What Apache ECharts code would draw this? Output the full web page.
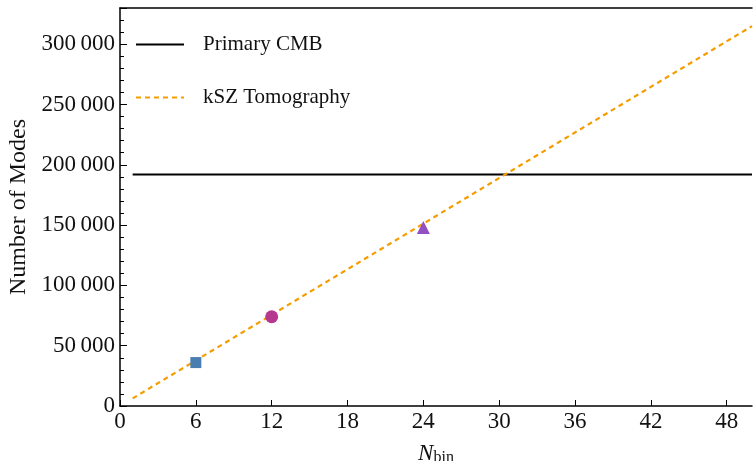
<!DOCTYPE html>
<html>
<head>
<meta charset="utf-8">
<script src="https://cdn.jsdelivr.net/npm/echarts@6/dist/echarts.min.js"></script>
<style>
  html, body { margin: 0; padding: 0; background: #fff; }
  #main { width: 754px; height: 461px; }
</style>
</head>
<body>
<div id="main"></div>
<script>
// values
var cmbN = [1, 50]
var cmbModes = [192000, 192000]
var kszN = [1, 50]
var kszModes = [6300, 315000]
var pointN = [6, 12, 24]
var pointModes = [36000, 74000, 148000]
var pointShapes = ['rect', 'circle', 'triangle']
var pointColors = ['#4a7db0', '#b5378f', '#9250c2']
var pointSizes = [11, 13, 13]
var xTicks = [0, 6, 12, 18, 24, 30, 36, 42, 48]

var font = 'Liberation Serif'

function pairs (xs, ys) {
  return xs.map(function (x, i) { return [x, ys[i]] })
}

var myChart = echarts.init(document.getElementById('main'))
myChart.setOption({
  animation: false,
  textStyle: { fontFamily: font },
  grid: { left: 120, right: 2, top: 8, bottom: 55, containLabel: false, outerBoundsMode: 'none' },
  legend: {
    orient: 'vertical',
    left: 135,
    top: 34,
    padding: 0,
    itemWidth: 48,
    itemHeight: 12,
    itemGap: 32,
    data: [
      { name: 'Primary CMB', itemStyle: { opacity: 0 } },
      { name: 'kSZ Tomography', itemStyle: { opacity: 0 } }
    ],
    textStyle: { fontFamily: font, fontSize: 21, color: '#111', padding: [0, 0, 0, 14] }
  },
  xAxis: [{
    type: 'value',
    min: 0,
    max: 50,
    interval: 6,
    name: '{n|N}{s|bin}',
    nameLocation: 'middle',
    nameGap: 36,
    nameTextStyle: {
      rich: {
        n: { fontFamily: font, fontStyle: 'italic', fontSize: 23, color: '#111' },
        s: { fontFamily: font, fontSize: 16, color: '#111', verticalAlign: 'bottom', padding: [8, 0, 0, 0] }
      }
    },
    splitLine: { show: false },
    axisLine: { lineStyle: { color: '#000', width: 1.5 } },
    axisTick: { inside: true, length: 6, lineStyle: { color: '#000' } },
    axisLabel: {
      fontFamily: font, fontSize: 23, color: '#111', margin: 4,
      showMaxLabel: false,
      formatter: function (v) { return xTicks.indexOf(v) >= 0 ? String(v) : '' }
    }
  }, {
    type: 'value',
    position: 'top',
    min: 0,
    max: 50,
    axisLine: { show: true, lineStyle: { color: '#000', width: 1.5 } },
    axisTick: { show: false },
    axisLabel: { show: false },
    splitLine: { show: false }
  }],
  yAxis: {
    type: 'value',
    min: 0,
    max: 330000,
    interval: 50000,
    name: 'Number of Modes',
    nameLocation: 'middle',
    nameGap: 87,
    nameRotate: 90,
    nameTextStyle: { fontFamily: font, fontSize: 24, color: '#111' },
    splitLine: { show: false },
    axisLine: { show: true, lineStyle: { color: '#000', width: 1.5 } },
    axisTick: { inside: true, length: 7, lineStyle: { color: '#000' } },
    minorTick: { show: true, splitNumber: 5, length: 4, lineStyle: { color: '#000' } },
    axisLabel: {
      fontFamily: font, fontSize: 23, color: '#111', margin: 5,
      showMaxLabel: false,
      formatter: function (v) {
        return String(v).replace(/\B(?=(\d{3})+(?!\d))/g, '\u2009')
      }
    }
  },
  series: [{
    name: 'Primary CMB',
    type: 'line',
    data: pairs(cmbN, cmbModes),
    symbol: 'none',
    lineStyle: { color: '#000', width: 2 },
    itemStyle: { color: '#000' }
  }, {
    name: 'kSZ Tomography',
    type: 'line',
    data: pairs(kszN, kszModes),
    symbol: 'none',
    lineStyle: { color: '#f59d00', width: 2.2, type: [5, 4] },
    itemStyle: { color: '#f59d00' }
  }, {
    name: 'points',
    type: 'scatter',
    data: pointN.map(function (n, i) {
      return {
        value: [n, pointModes[i]],
        symbol: pointShapes[i],
        symbolSize: pointSizes[i],
        itemStyle: { color: pointColors[i], opacity: 1 }
      }
    }),
    z: 5
  }]
})
</script>
</body>
</html>
